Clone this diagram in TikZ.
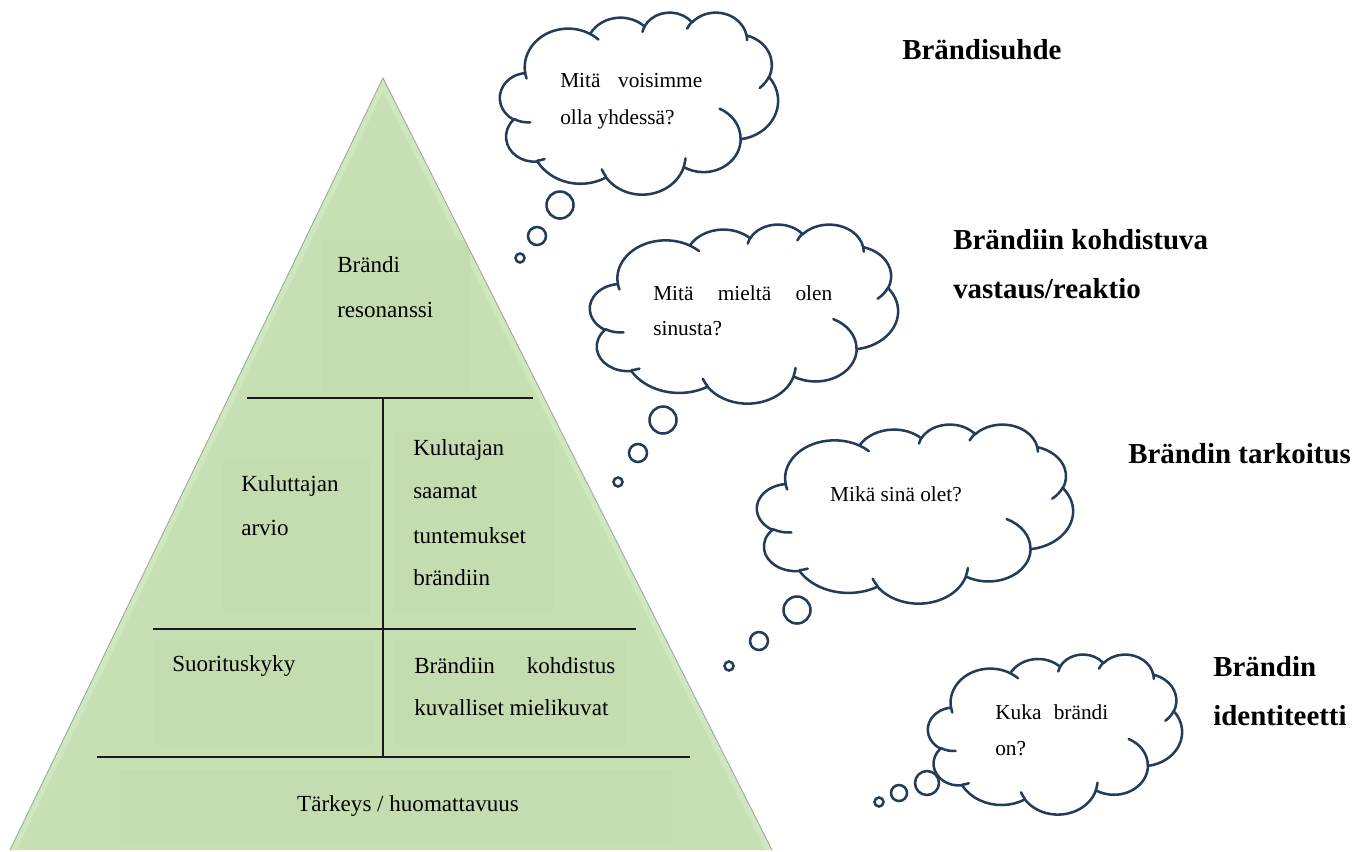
\documentclass[tikz,border=0pt]{standalone}
\usepackage{fontspec}
\setmainfont{Liberation Serif}
\definecolor{cloudc}{RGB}{35,60,90}
\definecolor{pyr}{RGB}{198,224,180}
\definecolor{pyrlight}{RGB}{212,234,198}
\definecolor{pyredge}{RGB}{150,168,140}
\definecolor{boxg}{RGB}{195,221,177}
\definecolor{linec}{RGB}{25,25,25}

% Word-style cloud geometry (43200 units -> 43.2), visual angles converted to parametric
\newcommand\cwdef[5]{%
  \pgfmathsetmacro\cwtmps{atan2(#2*sin(#4),#3*cos(#4))}%
  \pgfmathsetmacro\cwtmpe{atan2(#2*sin(#4+#5),#3*cos(#4+#5))}%
  \pgfmathsetmacro\cwtmpd{mod(\cwtmpe-\cwtmps+720,360)}%
  \expandafter\xdef\csname cw#1\endcsname{arc[x radius=#2, y radius=#3, start angle=\cwtmps, delta angle=\cwtmpd]}%
}
\cwdef{A}{6.753}{9.190}{-190.4875}{123.7805}
\cwdef{B}{5.333}{7.267}{-144.1024}{89.9452}
\cwdef{C}{4.365}{5.945}{-145.8079}{99.7230}
\cwdef{D}{4.857}{6.595}{-130.9861}{117.2417}
\cwdef{E}{5.333}{7.273}{-78.7089}{109.0269}
\cwdef{F}{6.775}{9.220}{-46.2673}{130.2690}
\cwdef{G}{5.785}{7.867}{0.6250}{114.0333}
\cwdef{H}{6.752}{9.215}{22.4516}{115.1726}
\cwdef{I}{7.720}{10.543}{66.2426}{75.7110}
\cwdef{J}{4.360}{5.918}{-274.9421}{146.7356}
\cwdef{K}{4.345}{5.945}{-246.8285}{152.5189}
\cwdef{a}{4.345}{5.945}{86.7420}{26.4295}
\cwdef{b}{4.360}{5.918}{73.6105}{11.4475}
\cwdef{c}{6.752}{9.215}{137.6242}{14.0811}
\cwdef{d}{6.752}{9.215}{6.4533}{15.9984}
\cwdef{e}{5.785}{7.867}{-70.2924}{70.9174}
\cwdef{f}{5.333}{7.273}{30.3180}{27.7515}
\cwdef{g}{4.857}{6.595}{-13.7443}{14.8589}
\cwdef{h}{4.857}{6.595}{-149.1815}{18.1954}
\cwdef{i}{4.365}{5.945}{-163.4943}{17.6864}
\cwdef{j}{6.753}{9.190}{-66.7070}{12.3194}
\cwdef{k}{6.753}{9.190}{157.6544}{11.8582}

\newcommand\wordcloud[4]{%
  \begin{scope}[shift={(#1,#2)},xscale=#3/43.2,yscale=#4/43.2]
    \draw[cloudline,fill=white] (3.9,14.37) \cwA\cwB\cwC\cwD\cwE\cwF\cwG\cwH\cwI\cwJ\cwK -- cycle;
    \draw[cloudline] (4.693,26.177)\cwa (6.928,34.899)\cwb (16.478,39.09)\cwc
      (28.827,34.751)\cwd (34.129,22.954)\cwe (41.798,15.354)\cwf (38.324,5.426)\cwg
      (29.078,3.952)\cwh (22.141,4.72)\cwi (14.0,5.192)\cwj (4.127,15.789)\cwk;
  \end{scope}}

\tikzset{
  cloudline/.style={draw=cloudc, line width=1.9pt, line join=round, line cap=round},
  bubble/.style={draw=cloudc, line width=1.9pt, fill=white},
  ctext/.style={font=\fontsize{16}{19}\selectfont, inner sep=0pt, anchor=base west},
  ptext/.style={font=\fontsize{17.3}{20}\selectfont, inner sep=0pt, anchor=base west, text=black},
  htext/.style={font=\bfseries\fontsize{21.7}{26}\selectfont, inner sep=0pt, anchor=base west},
  pline/.style={draw=linec, line width=1.4pt},
  tbox/.style={fill=boxg, draw=none}
}

\begin{document}
\begin{tikzpicture}[x=0.75pt,y=-0.75pt]
\useasboundingbox (0,0) rectangle (1371,851);

% ---------- pyramid ----------
\coordinate (pl) at (10,850);
\coordinate (pt) at (383,78);
\coordinate (pr) at (772,850);
\fill[pyr] (pl) -- (pt) -- (pr) -- cycle;
\begin{scope}
  \clip (pl) -- (pt) -- (pr) -- cycle;
  \draw[pyrlight, line width=9pt, opacity=0.7] (pl) -- (pt) -- (pr);
  \fill[tbox] (322,240) rectangle (470,393);
  \fill[tbox] (223,460) rectangle (370,613);
  \fill[tbox] (393,432) rectangle (553,613);
  \fill[tbox] (154,640) rectangle (373,745);
  \fill[tbox] (393,640) rectangle (625,745);
  \fill[tbox] (120,770) rectangle (672,843);
\end{scope}
\draw[pyredge, line width=0.6pt] (pl) -- (pt) -- (pr);

\coordinate (l1a) at (247,398); \coordinate (l1b) at (533,398);
\coordinate (l2a) at (153,629); \coordinate (l2b) at (636,629);
\coordinate (l3a) at (97,757);  \coordinate (l3b) at (690,757);
\coordinate (v1) at (383,398);  \coordinate (v2) at (383,757);
\draw[pline] (l1a) -- (l1b);
\draw[pline] (l2a) -- (l2b);
\draw[pline] (l3a) -- (l3b);
\draw[pline] (v1) -- (v2);

\node[ptext] (p1) at (337,272) {Brändi};
\node[ptext] (p2) at (337,317) {resonanssi};
\node[ptext] (p3) at (241,491) {Kuluttajan};
\node[ptext] (p4) at (241,535) {arvio};
\node[ptext] (p5) at (413,455) {Kulutajan};
\node[ptext] (p6) at (413,498) {saamat};
\node[ptext] (p7) at (413,543) {tuntemukset};
\node[ptext] (p8) at (413,585) {brändiin};
\node[ptext] (p9) at (172,671) {Suorituskyky};
\node[ptext] (p10) at (414,673) {\makebox[150.75pt][l]{Brändiin\hfill kohdistus}};
\node[ptext] (p11) at (414,715) {kuvalliset mielikuvat};
\node[ptext, anchor=base] (p12) at (408,811) {Tärkeys / huomattavuus};

% ---------- clouds ----------
\wordcloud{500}{12}{278}{182}
\draw[bubble] (560,205) circle[radius=13.5];
\draw[bubble] (537,236) circle[radius=9];
\draw[bubble] (520,258) circle[radius=4.5];
\node[ctext] (c1a) at (560,87) {\makebox[106.5pt][l]{Mitä\hfill voisimme}};
\node[ctext] (c1b) at (560,124) {olla yhdessä?};

\wordcloud{590}{224}{308}{179}
\draw[bubble] (663,420) circle[radius=13.5];
\draw[bubble] (638,453) circle[radius=9];
\draw[bubble] (618,482) circle[radius=4.5];
\node[ctext] (c2a) at (653,300) {\makebox[134.25pt][l]{Mitä\hfill mieltä\hfill olen}};
\node[ctext] (c2b) at (653,335) {sinusta?};

\wordcloud{757}{424}{316}{179}
\draw[bubble] (797,610) circle[radius=13.5];
\draw[bubble] (759,641) circle[radius=9];
\draw[bubble] (729,666) circle[radius=4.5];
\node[ctext, anchor=base] (c3a) at (896,501) {Mikä sinä olet?};

\wordcloud{928}{654}{254}{160}
\draw[bubble] (927,783) circle[radius=12];
\draw[bubble] (899,793) circle[radius=8];
\draw[bubble] (879,802) circle[radius=4.5];
\node[ctext] (c4a) at (995,719) {\makebox[84.75pt][l]{Kuka\hfill brändi}};
\node[ctext] (c4b) at (995,755) {on?};

% ---------- headings ----------
\node[htext] (h1) at (902,59) {Brändisuhde};
\node[htext] (h2a) at (953,249) {Brändiin kohdistuva};
\node[htext] (h2b) at (953,298) {vastaus/reaktio};
\node[htext] (h3) at (1128,463) {Brändin tarkoitus};
\node[htext] (h4a) at (1213,676) {Brändin};
\node[htext] (h4b) at (1213,725) {identiteetti};
\end{tikzpicture}
\end{document}
